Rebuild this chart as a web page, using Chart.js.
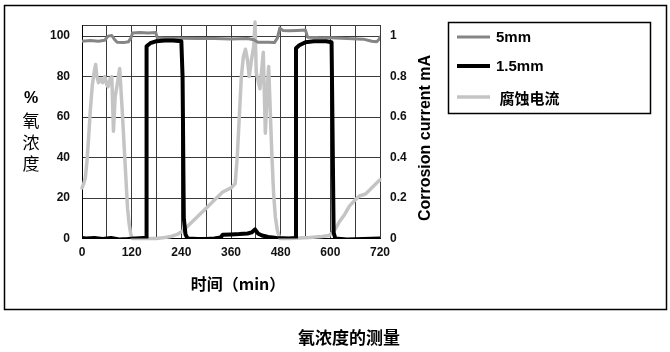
<!DOCTYPE html>
<html>
<head>
<meta charset="utf-8">
<script src="https://cdn.jsdelivr.net/npm/chart.js@4.4.0/dist/chart.umd.min.js"></script>
<style>
html, body { margin: 0; padding: 0; background: #fff; }
</style>
</head>
<body>
<canvas id="mycanvas" width="670" height="352"></canvas>
<script>
// time in minutes, oxygen in %, current in mA
var t5mm = [0, 20, 40, 55, 63, 72, 78, 85, 100, 112, 118, 122, 140, 160, 178, 182, 200, 240, 280, 320, 360, 400, 415, 425, 450, 465, 472, 478, 485, 500, 520, 540, 545, 570, 600, 640, 680, 700, 712, 718, 720];
var o5mm = [97.5, 97.8, 97.5, 98, 100, 100.3, 98.5, 97, 96.8, 97.2, 99, 101.5, 101.8, 101.5, 101.8, 99.2, 99, 99, 98.8, 98.8, 98.6, 98.8, 98.2, 97, 97, 96.8, 99, 104, 102.8, 102.6, 102.8, 103, 99.5, 99.3, 99.2, 98.8, 98.5, 97.5, 97.2, 98.5, 99.5];

var t15mm = [0, 10, 30, 50, 70, 90, 110, 130, 150, 155, 156, 165, 180, 200, 220, 240, 243, 246, 250, 255, 280, 300, 320, 335, 340, 360, 380, 400, 410, 418, 425, 435, 450, 470, 500, 515, 517, 525, 540, 560, 590, 603, 605, 608, 612, 640, 680, 720];
var o15mm = [0.2, 0, 0.3, -0.2, 0.3, -0.5, -0.3, 0, 0.2, 0.5, 95, 96.5, 97.5, 97.8, 97.8, 97.5, 80, 10, 2, 0, -0.3, -0.2, 0, 0.5, 1.8, 2, 2.2, 2.5, 3, 4.5, 2.5, 1.5, 0.8, 0.2, 0, 0.3, 94, 95.5, 97, 97.5, 97.5, 97, 60, 3, 0, -0.5, -0.3, 0];

var tCur = [0, 4, 8, 12, 16, 20, 25, 30, 33, 36, 40, 45, 50, 55, 60, 63, 68, 72, 76, 80, 85, 91, 97, 102, 106, 110, 114, 118, 122, 150, 180, 200, 215, 230, 245, 260, 280, 300, 320, 340, 360, 370, 375, 380, 385, 390, 395, 400, 404, 410, 415, 418, 421, 430, 438, 443, 448, 451, 455, 459, 463, 467, 472, 478, 500, 550, 580, 597, 610, 621, 635, 646, 660, 670, 685, 695, 710, 720];
var iCur = [0.25, 0.27, 0.3, 0.38, 0.5, 0.63, 0.76, 0.83, 0.86, 0.8, 0.77, 0.79, 0.77, 0.8, 0.76, 0.75, 0.79, 0.8, 0.53, 0.7, 0.76, 0.84, 0.64, 0.45, 0.3, 0.15, 0.07, 0.02, 0, 0, 0, 0.005, 0.01, 0.02, 0.04, 0.07, 0.11, 0.15, 0.19, 0.23, 0.25, 0.27, 0.4, 0.6, 0.8, 0.9, 0.935, 0.88, 0.8, 0.89, 0.95, 1.07, 0.82, 0.74, 0.92, 0.52, 0.75, 0.85, 0.62, 0.4, 0.22, 0.11, 0.04, 0, 0, 0.005, 0.01, 0.015, 0.04, 0.08, 0.12, 0.16, 0.19, 0.21, 0.22, 0.24, 0.27, 0.29];

var legendLabels = ["5mm", "1.5mm", " 腐蚀电流"];
var xTicks = [0, 120, 240, 360, 480, 600, 720];
var yTicks = [0, 20, 40, 60, 80, 100];
var y1Ticks = ["0", "0.2", "0.4", "0.6", "0.8", "1"];

function pts(xs, ys) {
	var out = [];
	for (var i in xs) out.push({x: xs[i], y: ys[i]});
	return out;
}

var tickFont = {family: "'Liberation Sans', Arial, sans-serif", size: 12, weight: "bold"};

var decor = {
	id: "decor",
	afterDraw: function(chart) {
		var c = chart.ctx;
		var ds = chart.data.datasets;
		c.save();
		// outer frame
		c.strokeStyle = "#000";
		c.lineWidth = 1.5;
		c.strokeRect(4.5, 5.5, 662, 304);
		// legend box
		c.strokeRect(448.5, 22.5, 202, 91);
		var ly = [37, 66, 97];
		c.textBaseline = "middle";
		c.textAlign = "left";
		for (var i = 0; i < 3; i++) {
			c.strokeStyle = ds[i].borderColor;
			c.lineWidth = ds[i].borderWidth;
			c.beginPath();
			c.moveTo(457, ly[i]);
			c.lineTo(490, ly[i]);
			c.stroke();
			c.fillStyle = "#000";
			c.font = i < 2 ? "bold 15px 'Liberation Sans', Arial, sans-serif" : "bold 15px 'Noto Sans CJK SC'";
			c.fillText(legendLabels[i], 496, ly[i] + 1);
		}
		// left axis title, stacked
		c.textAlign = "center";
		c.font = "bold 16px 'Liberation Sans', Arial, sans-serif";
		c.fillText("%", 31, 99);
		c.font = "17px 'Noto Sans CJK SC'";
		c.fillText("氧", 31, 121);
		c.fillText("浓", 31, 143);
		c.fillText("度", 31, 164);
		// x axis title
		c.font = "bold 16px 'Noto Sans CJK SC'";
		c.fillText("时间（min）", 238, 284);
		// right axis title
		c.save();
		c.translate(426, 138);
		c.rotate(-Math.PI / 2);
		c.font = "bold 16px 'Liberation Sans', Arial, sans-serif";
		c.fillText("Corrosion current mA", 0, 0);
		c.restore();
		// caption
		c.font = "bold 17px 'Noto Sans CJK SC'";
		c.fillText("氧浓度的测量", 349, 338);
		c.restore();
	}
};

var ctx = document.getElementById("mycanvas");

var chart = new Chart(ctx, {
	type: "line",
	data: {
		datasets: [
			{
				label: legendLabels[0],
				data: pts(t5mm, o5mm),
				borderColor: "#858585",
				borderWidth: 3,
				yAxisID: "y",
				order: 2
			},
			{
				label: legendLabels[1],
				data: pts(t15mm, o15mm),
				borderColor: "#000",
				borderWidth: 4,
				yAxisID: "y",
				order: 1
			},
			{
				label: legendLabels[2],
				data: pts(tCur, iCur),
				borderColor: "#c4c4c4",
				borderWidth: 3.5,
				yAxisID: "y1",
				clip: false,
				order: 3
			}
		]
	},
	options: {
		responsive: false,
		animation: false,
		elements: {
			point: {radius: 0},
			line: {tension: 0, borderJoinStyle: "round", borderCapStyle: "round"}
		},
		layout: {padding: {top: 25, right: 230, bottom: 0, left: 0}},
		plugins: {
			legend: {display: false},
			tooltip: {enabled: false}
		},
		scales: {
			x: {
				type: "linear",
				min: 0,
				max: 720,
				afterFit: function(s) { s.height = 113.5; },
				afterBuildTicks: function(s) {
					var t = [];
					for (var v = 0; v <= 720; v += 60) t.push({value: v});
					s.ticks = t;
				},
				ticks: {
					autoSkip: false,
					maxRotation: 0,
					padding: 7,
					color: "#111",
					font: tickFont,
					callback: function(v) { return xTicks.indexOf(v) >= 0 ? v : ""; }
				},
				grid: {color: "#3a3a3a", lineWidth: 1, drawTicks: false},
				border: {color: "#000", width: 1}
			},
			y: {
				position: "left",
				min: 0,
				max: 105.5,
				afterFit: function(s) { s.width = 82; },
				afterBuildTicks: function(s) {
					var t = yTicks.map(function(v) { return {value: v}; });
					t.push({value: 105.5});
					s.ticks = t;
				},
				ticks: {
					autoSkip: false,
					padding: 12,
					color: "#111",
					font: tickFont,
					callback: function(v) { return yTicks.indexOf(v) >= 0 ? v : ""; }
				},
				grid: {color: "#3a3a3a", lineWidth: 1, drawTicks: false},
				border: {color: "#000", width: 1}
			},
			y1: {
				position: "right",
				min: 0,
				max: 1.055,
				afterFit: function(s) { s.width = 60; },
				afterBuildTicks: function(s) {
					s.ticks = y1Ticks.map(function(v) { return {value: parseFloat(v)}; });
				},
				ticks: {
					autoSkip: false,
					padding: 10,
					color: "#111",
					font: tickFont,
					callback: function(v, i) { return y1Ticks[i]; }
				},
				grid: {display: false, drawTicks: false},
				border: {display: false}
			}
		}
	},
	plugins: [decor]
});
</script>
</body>
</html>
